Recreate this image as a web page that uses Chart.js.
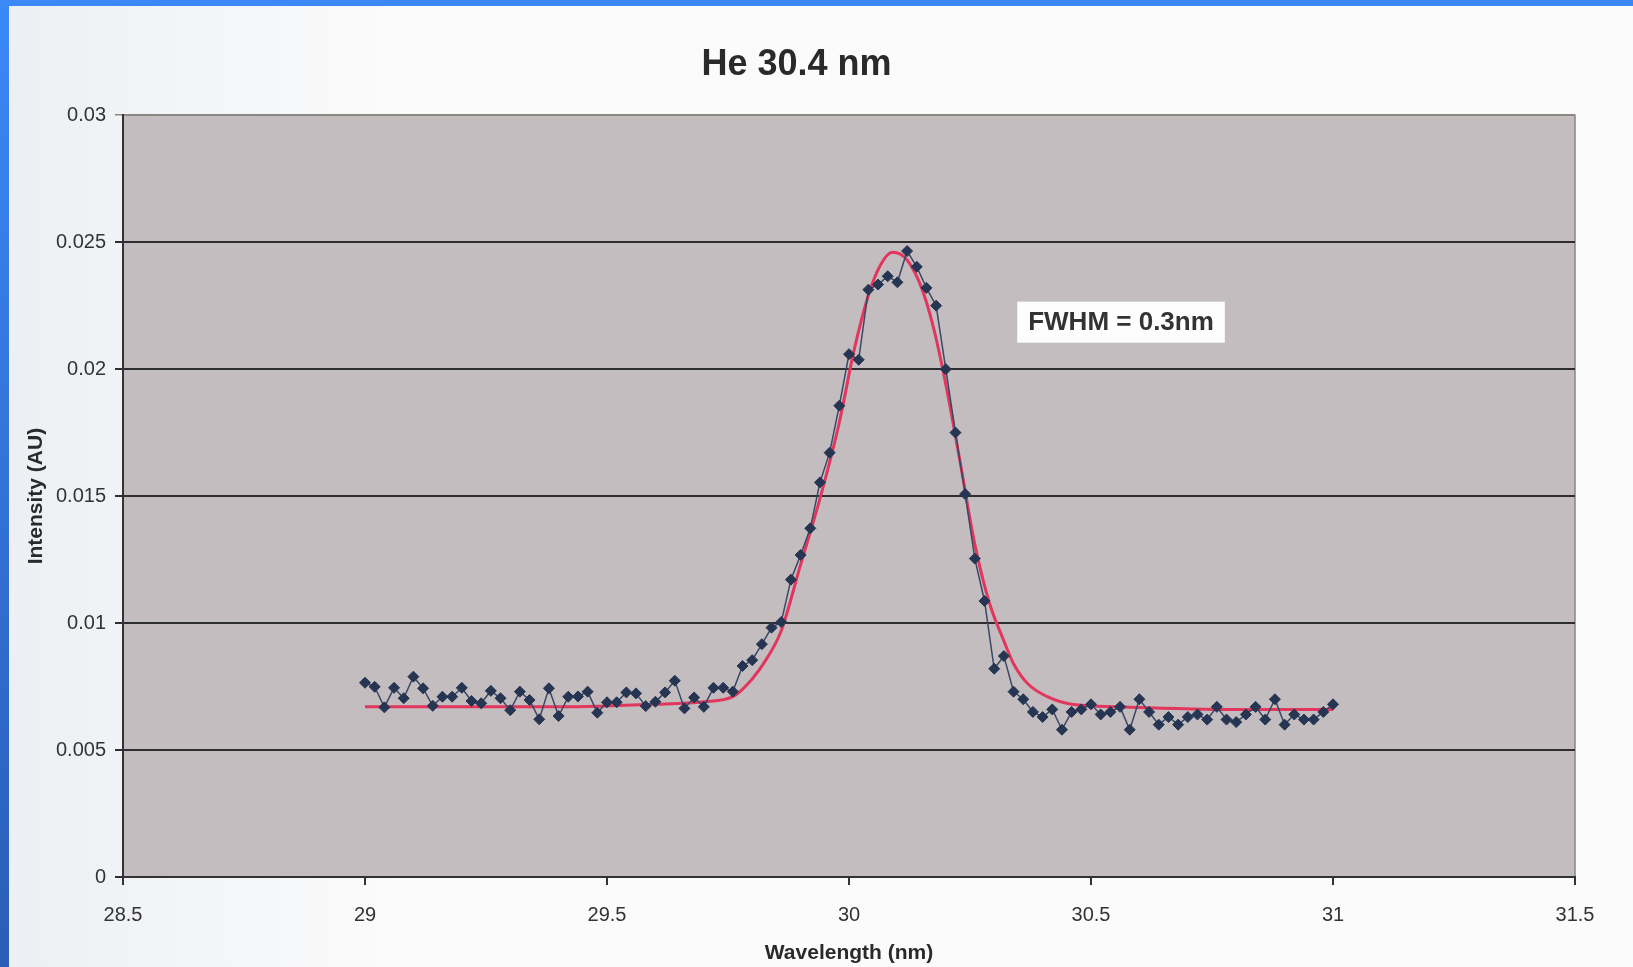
<!DOCTYPE html>
<html>
<head>
<meta charset="utf-8">
<title>He 30.4 nm</title>
<script src="https://cdn.jsdelivr.net/npm/chart.js@4.4.1/dist/chart.umd.min.js"></script>
<style>
  html, body { margin: 0; padding: 0; background: #fafbfc; overflow: hidden; }
  #wrap { position: relative; width: 1633px; height: 967px; }
</style>
</head>
<body>
<div id="wrap"><canvas id="heChart" width="1633" height="967"></canvas></div>
<script>
// measured spectrum (nm / AU)
const wavelength = [
  29.00, 29.02, 29.04, 29.06, 29.08, 29.10, 29.12, 29.14, 29.16, 29.18,
  29.20, 29.22, 29.24, 29.26, 29.28, 29.30, 29.32, 29.34, 29.36, 29.38,
  29.40, 29.42, 29.44, 29.46, 29.48, 29.50, 29.52, 29.54, 29.56, 29.58,
  29.60, 29.62, 29.64, 29.66, 29.68, 29.70, 29.72, 29.74, 29.76, 29.78,
  29.80, 29.82, 29.84, 29.86, 29.88, 29.90, 29.92, 29.94, 29.96, 29.98,
  30.00, 30.02, 30.04, 30.06, 30.08, 30.10, 30.12, 30.14, 30.16, 30.18,
  30.20, 30.22, 30.24, 30.26, 30.28, 30.30, 30.32, 30.34, 30.36, 30.38,
  30.40, 30.42, 30.44, 30.46, 30.48, 30.50, 30.52, 30.54, 30.56, 30.58,
  30.60, 30.62, 30.64, 30.66, 30.68, 30.70, 30.72, 30.74, 30.76, 30.78,
  30.80, 30.82, 30.84, 30.86, 30.88, 30.90, 30.92, 30.94, 30.96, 30.98,
  31.00
];
const intensity = [
  0.00765, 0.00749, 0.00668, 0.00745, 0.00704, 0.00789, 0.00743, 0.00674, 0.00710, 0.00710,
  0.00745, 0.00693, 0.00684, 0.00733, 0.00704, 0.00657, 0.00730, 0.00697, 0.00621, 0.00743,
  0.00634, 0.00710, 0.00711, 0.00730, 0.00647, 0.00688, 0.00688, 0.00727, 0.00723, 0.00673,
  0.00690, 0.00727, 0.00773, 0.00664, 0.00707, 0.00670, 0.00745, 0.00745, 0.00730, 0.00831,
  0.00854, 0.00917, 0.00982, 0.01004, 0.01171, 0.01268, 0.01373, 0.01554, 0.01671, 0.01856,
  0.02059, 0.02037, 0.02313, 0.02333, 0.02366, 0.02342, 0.02465, 0.02403, 0.02320, 0.02250,
  0.02000, 0.01750, 0.01508, 0.01254, 0.01087, 0.00820, 0.00870, 0.00730, 0.00700, 0.00650,
  0.00630, 0.00660, 0.00580, 0.00650, 0.00660, 0.00680, 0.00640, 0.00650, 0.00670, 0.00580,
  0.00700, 0.00650, 0.00600, 0.00630, 0.00600, 0.00630, 0.00640, 0.00620, 0.00670, 0.00620,
  0.00610, 0.00640, 0.00670, 0.00620, 0.00700, 0.00600, 0.00640, 0.00620, 0.00620, 0.00650,
  0.00680
];

// fitted curve
const fitWavelength = [
  29.00, 29.20, 29.40, 29.60, 29.70, 29.76, 29.80, 29.83, 29.86, 29.90,
  29.94, 29.98, 30.01, 30.04, 30.065, 30.09, 30.12, 30.15, 30.175, 30.20,
  30.23, 30.26, 30.29, 30.32, 30.34, 30.37, 30.41, 30.46, 30.56, 30.80,
  31.00
];
const fitIntensity = [
  0.0067, 0.0067, 0.0067, 0.0068, 0.0069, 0.0071, 0.0078, 0.0086, 0.0097, 0.0123,
  0.0149, 0.0179, 0.0207, 0.0229, 0.0241, 0.0246, 0.0243, 0.0232, 0.0216, 0.0194,
  0.0163, 0.0131, 0.0108, 0.0093, 0.0084, 0.0076, 0.0071, 0.0068, 0.0067, 0.0066,
  0.0066
];

const xTicks = [28.5, 29, 29.5, 30, 30.5, 31, 31.5];
const yTicks = [0, 0.005, 0.01, 0.015, 0.02, 0.025, 0.03];

const fontFamily = '"Liberation Sans", Arial, Helvetica, sans-serif';

// photo frame + grey plot area
const backdrop = {
  id: 'backdrop',
  beforeDraw(chart) {
    const ctx = chart.ctx;
    const a = chart.chartArea;
    ctx.save();
    const bg = ctx.createLinearGradient(0, 0, 400, 0);
    bg.addColorStop(0, '#eceff3');
    bg.addColorStop(1, '#fbfbfb');
    ctx.fillStyle = bg;
    ctx.fillRect(0, 0, chart.width, chart.height);

    const side = ctx.createLinearGradient(0, 0, 0, chart.height);
    side.addColorStop(0, '#3b88f7');
    side.addColorStop(1, '#2a5db6');
    ctx.fillStyle = side;
    ctx.fillRect(0, 0, 9, chart.height);
    ctx.fillStyle = '#3b88f7';
    ctx.fillRect(0, 0, chart.width, 6);

    ctx.fillStyle = '#c3bdc0';
    ctx.fillRect(a.left, a.top, a.right - a.left, a.bottom - a.top);
    ctx.strokeStyle = '#8a8680';
    ctx.lineWidth = 1.5;
    ctx.strokeRect(a.left, a.top, a.right - a.left, a.bottom - a.top);
    ctx.restore();
  }
};

const fwhmBox = {
  id: 'fwhmBox',
  afterDatasetsDraw(chart, args, opts) {
    const ctx = chart.ctx;
    const cx = chart.scales.x.getPixelForValue(opts.x);
    const cy = chart.scales.y.getPixelForValue(opts.y);
    ctx.save();
    ctx.font = 'bold 26px ' + fontFamily;
    const w = ctx.measureText(opts.text).width + 22;
    const h = 41;
    ctx.fillStyle = '#fdfdfd';
    ctx.fillRect(cx - w / 2, cy - h / 2, w, h);
    ctx.fillStyle = '#333333';
    ctx.textAlign = 'center';
    ctx.textBaseline = 'middle';
    ctx.fillText(opts.text, cx, cy + 1);
    ctx.restore();
  }
};

const ctx = document.getElementById('heChart').getContext('2d');
new Chart(ctx, {
  type: 'scatter',
  data: {
    datasets: [
      {
        label: 'Measured',
        data: wavelength.map((w, i) => ({ x: w, y: intensity[i] })),
        showLine: true,
        borderColor: '#3a4764',
        borderWidth: 1.5,
        pointStyle: 'rectRot',
        pointRadius: 5.5,
        pointBackgroundColor: '#263552',
        pointBorderColor: '#263552',
        pointBorderWidth: 1,
        tension: 0,
        order: 1
      },
      {
        label: 'Fit',
        data: fitWavelength.map((w, i) => ({ x: w, y: fitIntensity[i] })),
        showLine: true,
        borderColor: '#e2365c',
        borderWidth: 3,
        pointRadius: 0,
        cubicInterpolationMode: 'monotone',
        order: 2
      }
    ]
  },
  options: {
    responsive: false,
    animation: false,
    layout: { padding: { left: 18, right: 58, top: 0, bottom: 0 } },
    plugins: {
      legend: { display: false },
      tooltip: { enabled: false },
      title: {
        display: true,
        text: 'He 30.4 nm',
        color: '#2a2a2a',
        font: { family: fontFamily, size: 36, weight: 'bold' },
        padding: { top: 43, bottom: 29 }
      },
      fwhmBox: { text: 'FWHM = 0.3nm', x: 30.562, y: 0.02185 }
    },
    scales: {
      x: {
        type: 'linear',
        min: 28.5,
        max: 31.5,
        afterBuildTicks: scale => { scale.ticks = xTicks.map(v => ({ value: v })); },
        afterFit: scale => { scale.height = 90; },
        ticks: {
          color: '#333333',
          font: { family: fontFamily, size: 20 },
          padding: 18,
          maxRotation: 0,
          callback: v => String(v)
        },
        grid: { drawOnChartArea: false, drawTicks: true, tickLength: 8, color: '#333333', lineWidth: 2 },
        border: { display: true, color: '#333333', width: 2 },
        title: {
          display: true,
          text: 'Wavelength (nm)',
          color: '#2a2a2a',
          font: { family: fontFamily, size: 21, weight: 'bold' },
          padding: { top: 0, bottom: 1 }
        }
      },
      y: {
        type: 'linear',
        min: 0,
        max: 0.03,
        afterBuildTicks: scale => { scale.ticks = yTicks.map(v => ({ value: v })); },
        afterFit: scale => { scale.width = 105; },
        ticks: {
          color: '#333333',
          font: { family: fontFamily, size: 20 },
          padding: 9,
          callback: v => String(v)
        },
        grid: {
          drawTicks: true,
          tickLength: 8,
          color: c => (c.tick && c.tick.value === 0.03 ? '#8a8680' : '#2e2e2e'),
          lineWidth: c => (c.tick && c.tick.value === 0.03 ? 1.5 : 2)
        },
        border: { display: true, color: '#333333', width: 2 },
        title: {
          display: true,
          text: 'Intensity (AU)',
          color: '#2a2a2a',
          font: { family: fontFamily, size: 21, weight: 'bold' },
          padding: { top: 6, bottom: 0 }
        }
      }
    }
  },
  plugins: [backdrop, fwhmBox]
});
</script>
</body>
</html>
